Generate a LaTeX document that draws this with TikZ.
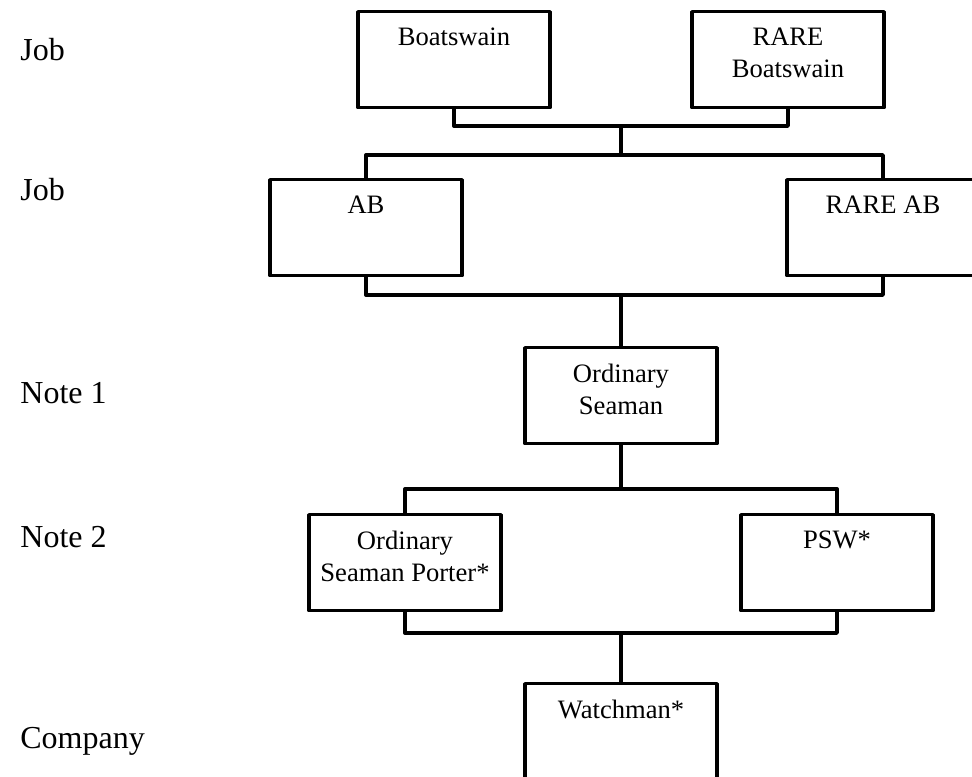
\documentclass[tikz,border=0pt]{standalone}
\usepackage{fontspec}
\setmainfont{Liberation Serif}
\usepackage{tikz}

\newcommand{\posttext}[1]{\parbox[t][32pt][t]{92pt}{\centering #1}}

\begin{document}
\begin{tikzpicture}[x=0.5pt, y=-0.5pt,
    post/.style ={draw, line width=1.7pt, line join=round, anchor=north,
                  inner xsep=2pt, inner ysep=8pt, font=\fontsize{13.3}{16}\selectfont},
    rank/.style ={anchor=west, inner sep=0pt, font=\fontsize{16}{19}\selectfont},
    link/.style ={line width=1.7pt, line join=round}]
   \useasboundingbox (0,0) rectangle (972,776);

   \node[rank] (r1) at (20,50)  {Job};
   \node[rank] (r2) at (20,190) {Job};
   \node[rank] (r3) at (20,393) {Note 1};
   \node[rank] (r4) at (20,537) {Note 2};
   \node[rank] (r5) at (20,741) {Company};

   \node[post] (boat)     at (454,10)  {\posttext{Boatswain}};
   \node[post] (rareboat) at (788,10)  {\posttext{RARE\\Boatswain}};
   \node[post] (ab)       at (366,178) {\posttext{AB}};
   \node[post] (rareab)   at (883,178) {\posttext{RARE AB}};
   \node[post] (os)       at (621,346) {\posttext{Ordinary\\Seaman}};
   \node[post] (osp)      at (405,513) {\posttext{Ordinary\\Seaman Porter*}};
   \node[post] (psw)      at (837,513) {\posttext{PSW*}};
   \node[post] (watch)    at (621,682) {\posttext{Watchman*}};

   \coordinate (j1) at (621,126);
   \coordinate (j2) at (621,155);
   \coordinate (j3) at (621,295);
   \coordinate (j4) at (621,489);
   \coordinate (j5) at (621,633);

   \draw[link] (boat.south) |- (j1) -| (rareboat.south);
   \draw[link] (j1) to (j2);
   \draw[link] (ab.north) |- (j2) -| (rareab.north);
   \draw[link] (ab.south) |- (j3) -| (rareab.south);
   \draw[link] (j3) to (os.north);
   \draw[link] (os.south) to (j4);
   \draw[link] (osp.north) |- (j4) -| (psw.north);
   \draw[link] (osp.south) |- (j5) -| (psw.south);
   \draw[link] (j5) to (watch.north);
 \end{tikzpicture}
\end{document}
